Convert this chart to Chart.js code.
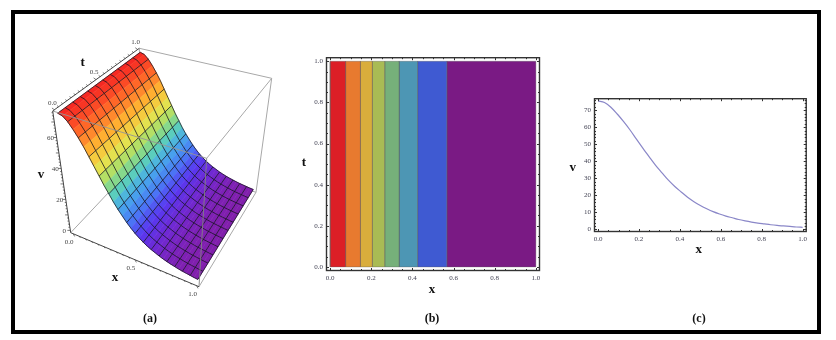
<!DOCTYPE html>
<html lang="en">
<head>
<meta charset="UTF-8">
<title>Surface, contour and profile of v(x, t)</title>
<script src="https://cdn.jsdelivr.net/npm/chart.js"></script>
<style>
    html, body { margin: 0; padding: 0; background: #fff; }
    #page { position: relative; width: 836px; height: 340px; overflow: hidden; }
    #border { position: absolute; left: 11px; top: 10px; width: 810px; height: 324px; box-sizing: border-box; border: 4px solid #000; }
    canvas { position: absolute; filter: blur(0.35px); }
    .lbl { position: absolute; transform: translate(-50%, -50%); font: bold 13px "Liberation Serif", serif; color: #111; white-space: nowrap; }
    .cap { font-size: 12px; }
</style>
</head>
<body>
<div id="page">
    <div id="border"></div>
    <canvas id="surface" width="290" height="340" style="left:0;top:0"></canvas>
    <canvas id="contour" width="250" height="250" style="left:296px;top:50px"></canvas>
    <canvas id="profile" width="246" height="165" style="left:564px;top:91px"></canvas>
</div>
<script>
    // v, checked against the contour edges in panel (b)
    const xValues = [0, 0.03125, 0.0625, 0.09375, 0.125, 0.15625, 0.1875, 0.21875, 0.25, 0.28125, 0.3125,
        0.34375, 0.375, 0.40625, 0.4375, 0.46875, 0.5, 0.53125, 0.5625, 0.59375, 0.625, 0.65625,
        0.6875, 0.71875, 0.75, 0.78125, 0.8125, 0.84375, 0.875, 0.90625, 0.9375, 0.96875, 1];
    const vValues = [75.5, 74.6, 71.8, 67.8, 63.3, 58.4, 53, 47.7, 42.6, 37.6, 33.2,
        28.9, 25.2, 22, 18.9, 16.3, 14, 12.1, 10.4, 9, 7.8, 6.8,
        5.8, 5, 4.3, 3.7, 3.2, 2.7, 2.3, 2, 1.7, 1.4, 1.2];

    // mesh lines across the surface, 11 cells along t (every second xValue gives the lines along t)
    const tMesh = [0, 0.0909, 0.1818, 0.2727, 0.3636, 0.4545, 0.5455, 0.6364, 0.7273, 0.8182, 0.9091, 1];

    // contour panel
    const bandEdges = [0, 0.075, 0.147, 0.205, 0.265, 0.335, 0.425, 0.567, 1];
    const bandColors = ["#dc1f26", "#e87a2f", "#d9ad3c", "#a9bb54", "#76b07a", "#4d96b4", "#3f5ad2", "#7a1a84"];

    // tick marks
    const unitMajor = [0, 0.2, 0.4, 0.6, 0.8, 1];
    const unitMinor = [0.05, 0.1, 0.15, 0.25, 0.3, 0.35, 0.45, 0.5, 0.55, 0.65, 0.7, 0.75, 0.85, 0.9, 0.95];
    const vMajor = [0, 10, 20, 30, 40, 50, 60, 70];
    const vMinor = [2, 4, 6, 8, 12, 14, 16, 18, 22, 24, 26, 28, 32, 34, 36, 38, 42, 44, 46, 48, 52, 54, 56, 58, 62, 64, 66, 68, 72, 74, 76];

    // colour of the surface by height
    const rainbowV = [0, 3, 7, 12, 18, 25, 31, 38, 46, 55, 66, 76];
    const rainbowRGB = [[132, 30, 165], [126, 32, 180], [112, 40, 210], [88, 56, 240], [74, 120, 245], [72, 170, 235],
        [90, 205, 190], [160, 222, 110], [235, 225, 75], [255, 180, 50], [255, 100, 40], [245, 35, 35]];

    // screen position of the 3D box corners, [x, t, v] each 0 or 1
    const boxCorners = {
        "000": [70.7, 232.7], "100": [199, 286.7], "110": [256, 192.3], "010": [143, 156],
        "001": [52.7, 111], "101": [206.7, 158.3], "111": [271.7, 78.3], "011": [139.3, 48.3]
    };
    const vLow = -1.5, vHigh = 77.1;

    function project(x, t, v) {
        const u = (x + 0.02) / 1.04, w = (t + 0.02) / 1.04, h = (v - vLow) / (vHigh - vLow);
        let px = 0, py = 0;
        for (const key in boxCorners) {
            const k = (key[0] === "1" ? u : 1 - u) * (key[1] === "1" ? w : 1 - w) * (key[2] === "1" ? h : 1 - h);
            px += k * boxCorners[key][0];
            py += k * boxCorners[key][1];
        }
        return { x: px, y: py };
    }

    function rainbow(v) {
        let i = 0;
        while (i < rainbowV.length - 2 && v > rainbowV[i + 1]) i++;
        const f = Math.min(1, Math.max(0, (v - rainbowV[i]) / (rainbowV[i + 1] - rainbowV[i])));
        const c = rainbowRGB[i].map((a, j) => Math.round(a + (rainbowRGB[i + 1][j] - a) * f));
        return `rgb(${c[0]},${c[1]},${c[2]})`;
    }

    function lineSet(points, color, width) {
        return { data: points, showLine: true, fill: false, borderColor: color, borderWidth: width, pointRadius: 0 };
    }

    function boxEdge(a, b, color) {
        const end = s => project(s[0] * 1.04 - 0.02, s[1] * 1.04 - 0.02, vLow + s[2] * (vHigh - vLow));
        return lineSet([end(a), end(b)], color, 1);
    }

    // painter's order, reversed below because Chart.js draws dataset 0 last
    const surfaceSets = [];
    const grey = "#a8a8a8", dark = "#444", meshColor = "rgba(20,20,30,0.85)";
    surfaceSets.push(boxEdge([0, 1, 1], [1, 1, 1], grey));
    surfaceSets.push(boxEdge([1, 1, 1], [1, 1, 0], grey));
    surfaceSets.push(boxEdge([0, 0, 0], [0, 1, 0], grey));
    surfaceSets.push(boxEdge([0, 1, 0], [1, 1, 0], grey));
    surfaceSets.push(boxEdge([1, 1, 1], [1, 0, 1], grey));
    surfaceSets.push(boxEdge([0, 1, 1], [0, 1, 0], grey));

    for (let i = 0; i < xValues.length - 1; i++) {
        const color = rainbow((vValues[i] + vValues[i + 1]) / 2);
        surfaceSets.push({
            data: [project(xValues[i], 0, vValues[i]), project(xValues[i + 1], 0, vValues[i + 1]),
                project(xValues[i + 1], 1, vValues[i + 1]), project(xValues[i], 1, vValues[i]), project(xValues[i], 0, vValues[i])],
            showLine: true, fill: "shape", backgroundColor: color, borderColor: color, borderWidth: 0.6, pointRadius: 0
        });
    }
    tMesh.forEach(t => {
        surfaceSets.push(lineSet(xValues.map((x, i) => project(x, t, vValues[i])), meshColor, 0.9));
    });
    xValues.forEach((x, i) => {
        if (i % 2 === 0) surfaceSets.push(lineSet([project(x, 0, vValues[i]), project(x, 1, vValues[i])], meshColor, 0.9));
    });
    surfaceSets.push(boxEdge([0, 0, 1], [1, 0, 1], "rgba(150,150,150,0.9)"));
    surfaceSets.push(boxEdge([1, 0, 1], [1, 0, 0], "rgba(130,130,130,0.9)"));
    surfaceSets.push(boxEdge([1, 0, 0], [1, 1, 0], grey));
    surfaceSets.push(boxEdge([0, 0, 1], [0, 0, 0], dark));
    surfaceSets.push(boxEdge([0, 0, 0], [1, 0, 0], dark));
    surfaceSets.push(boxEdge([0, 0, 1], [0, 1, 1], dark));

    // ticks and tick labels of the 3D box, [value, label]
    const xAxisLabels = [[0, "0.0"], [0.5, "0.5"], [1, "1.0"]];
    const tAxisLabels = [[0, "0.0"], [0.5, "0.5"], [1, "1.0"]];
    const vAxisLabels = [[0, "0"], [20, "20"], [40, "40"], [60, "60"]];

    const boxTicks = {
        id: "boxTicks",
        afterDraw(chart) {
            const ctx = chart.ctx, sx = chart.scales.x, sy = chart.scales.y;
            const at = p => [sx.getPixelForValue(p.x), sy.getPixelForValue(p.y)];
            const mark = (p, dx, dy) => {
                const [a, b] = at(p);
                ctx.beginPath(); ctx.moveTo(a, b); ctx.lineTo(a + dx, b + dy); ctx.stroke();
            };
            const text = (p, label, dx, dy) => {
                const [a, b] = at(p);
                ctx.fillText(label, a + dx, b + dy);
            };
            ctx.save();
            ctx.strokeStyle = dark;
            ctx.lineWidth = 0.7;
            unitMajor.concat(unitMinor).forEach(s => {
                const big = s * 10 % 5 === 0;
                mark(project(s, -0.02, vLow), (big ? 0.3 : 0.2) * 5, (big ? 0.9 : 0.5) * 3);
                mark(project(-0.02, s, vHigh), (big ? -0.8 : -0.5) * 3, (big ? -0.6 : -0.4) * 3);
            });
            vMajor.concat(vMinor).forEach(v => {
                if (v % 2 === 0 && v <= 76) mark(project(-0.02, -0.02, v), v % 10 === 0 ? -3 : -1.5, 0);
            });
            ctx.font = '7px "Liberation Serif", serif';
            ctx.fillStyle = "#444";
            ctx.textAlign = "center";
            ctx.textBaseline = "middle";
            xAxisLabels.forEach(l => text(project(l[0], -0.02, vLow), l[1], -4, 8));
            tAxisLabels.forEach(l => text(project(-0.02, l[0], vHigh), l[1], -2, -7));
            vAxisLabels.forEach(l => text(project(-0.02, -0.02, l[0]), l[1], -6, 1));
            ctx.restore();
        }
    };

    new Chart(document.getElementById("surface"), {
        type: "scatter",
        data: { datasets: surfaceSets.reverse() },
        options: {
            responsive: false, animation: false,
            layout: { padding: 0 },
            plugins: { legend: { display: false }, tooltip: { enabled: false } },
            scales: {
                x: { display: false, type: "linear", min: 0, max: 290 },
                y: { display: false, type: "linear", min: 0, max: 340, reverse: true }
            }
        },
        plugins: [boxTicks]
    });

    // frame with inward ticks on all four sides, as in the Mathematica plots
    const frameTicks = {
        id: "frameTicks",
        afterDraw(chart, args, opts) {
            const ctx = chart.ctx, a = chart.chartArea, sx = chart.scales.x, sy = chart.scales.y;
            ctx.save();
            ctx.strokeStyle = "#333";
            ctx.lineWidth = 1.4;
            ctx.strokeRect(a.left + 0.5, a.top + 0.5, a.right - a.left - 1, a.bottom - a.top - 1);
            ctx.lineWidth = 1;
            const xTick = (v, len) => {
                const p = Math.round(sx.getPixelForValue(v)) + 0.5;
                ctx.beginPath();
                ctx.moveTo(p, a.bottom); ctx.lineTo(p, a.bottom - len);
                ctx.moveTo(p, a.top); ctx.lineTo(p, a.top + len);
                ctx.stroke();
            };
            const yTick = (v, len) => {
                const p = Math.round(sy.getPixelForValue(v)) + 0.5;
                ctx.beginPath();
                ctx.moveTo(a.left, p); ctx.lineTo(a.left + len, p);
                ctx.moveTo(a.right, p); ctx.lineTo(a.right - len, p);
                ctx.stroke();
            };
            opts.xMajor.forEach(v => xTick(v, 3));
            opts.xMinor.forEach(v => xTick(v, 2));
            opts.yMajor.forEach(v => yTick(v, 3));
            opts.yMinor.forEach(v => yTick(v, 2));
            ctx.restore();
        }
    };

    function frameScale(min, max, major, size, format) {
        return {
            type: "linear", min: min, max: max,
            grid: { display: false, drawTicks: false }, border: { display: false },
            afterBuildTicks: axis => { axis.ticks = major.map(v => ({ value: v })); },
            afterFit: axis => {
                if (axis.isHorizontal()) axis.height = size; else axis.width = size;
            },
            ticks: {
                autoSkip: false, maxRotation: 0, padding: 3, color: "#445",
                font: { family: '"Liberation Serif", serif', size: 7 },
                callback: format
            }
        };
    }

    const contourSets = bandColors.map((color, i) => ({
        data: [
            { x: bandEdges[i], y: 0 }, { x: bandEdges[i + 1], y: 0 },
            { x: bandEdges[i + 1], y: 1 }, { x: bandEdges[i], y: 1 }, { x: bandEdges[i], y: 0 }
        ],
        showLine: true, fill: "shape", backgroundColor: color, borderColor: "rgba(90,90,90,0.45)", borderWidth: 0.8, pointRadius: 0
    }));

    new Chart(document.getElementById("contour"), {
        type: "scatter",
        data: { datasets: contourSets },
        options: {
            responsive: false, animation: false,
            layout: { padding: { left: 0, top: 6, right: 6, bottom: 0 } },
            plugins: {
                legend: { display: false }, tooltip: { enabled: false },
                frameTicks: { xMajor: unitMajor, xMinor: unitMinor, yMajor: unitMajor, yMinor: unitMinor }
            },
            scales: {
                x: frameScale(-0.02, 1.02, unitMajor, 29, v => v.toFixed(1)),
                y: frameScale(-0.02, 1.02, unitMajor, 30, v => v.toFixed(1))
            }
        },
        plugins: [frameTicks]
    });

    new Chart(document.getElementById("profile"), {
        type: "scatter",
        data: {
            datasets: [{
                data: xValues.map((x, i) => ({ x: x, y: vValues[i] })),
                showLine: true, fill: false, borderColor: "#8a87c8", borderWidth: 1.2, pointRadius: 0, cubicInterpolationMode: "monotone"
            }]
        },
        options: {
            responsive: false, animation: false,
            layout: { padding: { left: 0, top: 6, right: 0, bottom: 0 } },
            plugins: {
                legend: { display: false }, tooltip: { enabled: false },
                frameTicks: { xMajor: unitMajor, xMinor: unitMinor, yMajor: vMajor, yMinor: vMinor }
            },
            scales: {
                x: frameScale(-0.02, 1.02, unitMajor, 24, v => v.toFixed(1)),
                y: frameScale(-1.55, 77.1, vMajor, 30, v => String(v))
            }
        },
        plugins: [frameTicks]
    });

    // axis titles and captions
    const pageLabels = [
        ["t", 82.7, 62, ""], ["v", 41, 174.3, ""], ["x", 115, 276.7, ""], ["(a)", 150, 317.7, "cap"],
        ["t", 304, 161.7, ""], ["x", 432, 289, ""], ["(b)", 432, 317.7, "cap"],
        ["v", 572.7, 167.3, ""], ["x", 698.7, 248.7, ""], ["(c)", 699, 318, "cap"]
    ];
    pageLabels.forEach(l => {
        const el = document.createElement("div");
        el.className = "lbl " + l[3];
        el.textContent = l[0];
        el.style.left = l[1] + "px";
        el.style.top = l[2] + "px";
        document.getElementById("page").appendChild(el);
    });
</script>
</body>
</html>
